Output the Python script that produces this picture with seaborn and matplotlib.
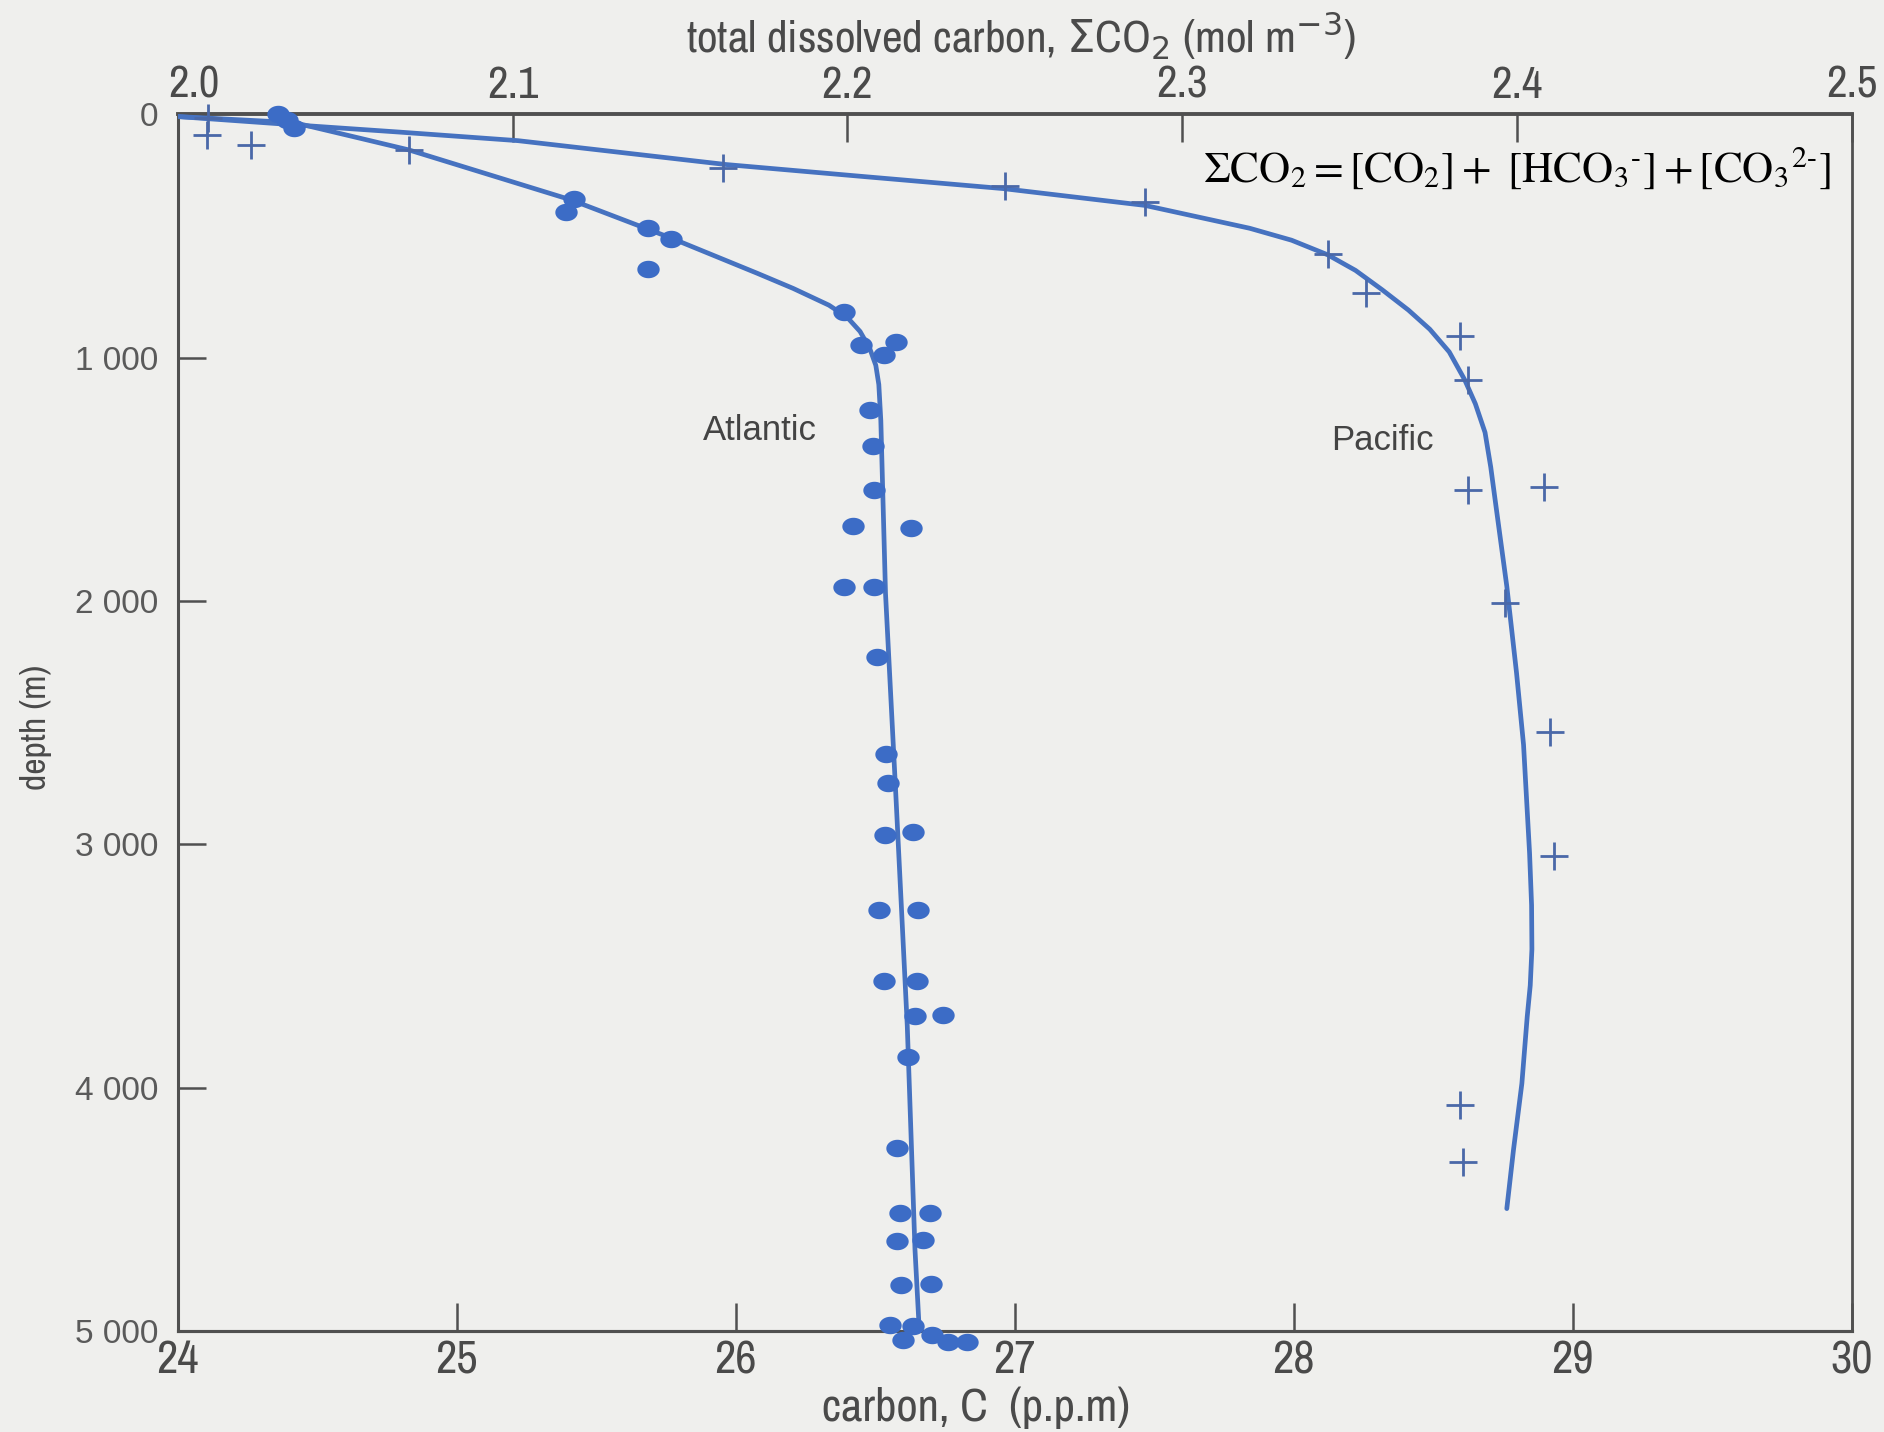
import matplotlib
matplotlib.use("Agg")
import matplotlib.pyplot as plt
from matplotlib import font_manager
from matplotlib.path import Path
from matplotlib.transforms import ScaledTranslation
import numpy as np
import pandas as pd
import seaborn as sns

# ---- measured profiles: total dissolved carbon (mol m^-3) against depth (m) ----
atlantic_dic = [2.0298, 2.0325, 2.0347, 2.1182, 2.1159, 2.1403, 2.1472, 2.1403,
                2.1990, 2.2040, 2.2145, 2.2109, 2.2069, 2.2078, 2.2081, 2.2017,
                2.2191, 2.1990, 2.2081, 2.2090, 2.2116, 2.2120, 2.2113, 2.2195,
                2.2095, 2.2212, 2.2108, 2.2209, 2.2202, 2.2287, 2.2182, 2.2148,
                2.2157, 2.2247, 2.2148, 2.2225, 2.2160, 2.2250, 2.2127, 2.2197,
                2.2167, 2.2252, 2.2302, 2.2357]
atlantic_depth = [0, 25, 59, 348, 404, 469, 514, 638,
                  813, 948, 937, 990, 1217, 1365, 1544, 1693,
                  1700, 1941, 1941, 2229, 2629, 2748, 2963, 2950,
                  3268, 3268, 3561, 3561, 3707, 3702, 3876, 4247,
                  4514, 4514, 4628, 4625, 4810, 4806, 4975, 4981,
                  5036, 5015, 5043, 5043]

pacific_dic = [2.0090, 2.0086, 2.0220, 2.0690, 2.1630, 2.2470, 2.2890, 2.3435,
               2.3550, 2.3830, 2.3855, 2.3855, 2.4080, 2.3966, 2.4100, 2.4110,
               2.3830, 2.3840]
pacific_depth = [17, 84, 128, 148, 222, 296, 360, 573,
                 735, 913, 1091, 1545, 1530, 2009, 2537, 3050,
                 4072, 4304]

# ---- hand-fitted profile curves ----
atlantic_fit_dic = [2.0000, 2.0348, 2.0544, 2.0690, 2.1176, 2.1475, 2.1731, 2.1838,
                    2.1945, 2.1999, 2.2038, 2.2067, 2.2085, 2.2094, 2.2100, 2.2114,
                    2.2146, 2.2179, 2.2202, 2.2215]
atlantic_fit_depth = [10, 35, 99, 147, 353, 510, 654, 716,
                      785, 834, 893, 963, 1032, 1111, 1259, 1969,
                      2828, 3746, 4664, 5000]

pacific_fit_dic = [2.0000, 2.0348, 2.0664, 2.1016, 2.1637, 2.2053, 2.2466, 2.2889,
                   2.3202, 2.3327, 2.3435, 2.3518, 2.3597, 2.3676, 2.3740, 2.3798,
                   2.3844, 2.3876, 2.3905, 2.3922, 2.3937, 2.3970, 2.3999, 2.4020,
                   2.4038, 2.4044, 2.4045, 2.4040, 2.4031, 2.4015, 2.3990, 2.3970]
pacific_fit_depth = [10, 44, 74, 109, 207, 257, 306, 375,
                     469, 518, 578, 642, 721, 805, 884, 977,
                     1091, 1190, 1308, 1450, 1604, 1940, 2295, 2591,
                     3036, 3250, 3431, 3580, 3708, 3983, 4255, 4497]

top_ticks = [2.0, 2.1, 2.2, 2.3, 2.4, 2.5]
top_labels = ["2.0", "2.1", "2.2", "2.3", "2.4", "2.5"]
bottom_ticks = [24, 25, 26, 27, 28, 29, 30]
depth_ticks = [0, 1000, 2000, 3000, 4000, 5000]
depth_labels = ["0", "1 000", "2 000", "3 000", "4 000", "5 000"]

# ---- styling ----
sns.set_theme(style="white")
plt.rcParams["font.family"] = ["Liberation Sans", "DejaVu Sans"]


def condensed_font():
    """Pick a narrow sans face if one is installed."""
    for f in font_manager.fontManager.ttflist:
        if "Narrow" in f.name and f.weight in (400, "normal", "regular") and f.style == "normal":
            return f.fname, True
    for f in font_manager.fontManager.ttflist:
        if f.name == "DejaVu Sans" and "condensed" in str(f.stretch) and f.weight in (400, "normal") \
                and f.style == "normal":
            return f.fname, True
    return None, False


narrow_file, has_narrow = condensed_font()


def axis_font(size):
    if has_narrow:
        return font_manager.FontProperties(fname=narrow_file, size=size * 1.12)
    return font_manager.FontProperties(family="Liberation Sans", size=size)


paper = "#efefed"
frame = "#505050"
text_col = "#4a4a4a"
line_col = "#4672c0"
dot_col = "#3c6cc6"
plus_col = "#4a68a8"

# slightly flattened dot, as printed
theta = np.linspace(0, 2 * np.pi, 40)
dot_marker = Path(np.column_stack([np.cos(theta), 0.78 * np.sin(theta)]), closed=True)

fig = plt.figure(figsize=(18.84, 14.32), dpi=100, facecolor=paper)
ax = fig.add_axes([0.0944, 0.0705, 0.8884, 0.8498], facecolor=paper)

atl_fit = pd.DataFrame({"dic": atlantic_fit_dic, "depth": atlantic_fit_depth})
pac_fit = pd.DataFrame({"dic": pacific_fit_dic, "depth": pacific_fit_depth})
atl = pd.DataFrame({"dic": atlantic_dic, "depth": atlantic_depth})
pac = pd.DataFrame({"dic": pacific_dic, "depth": pacific_depth})

for fit in (atl_fit, pac_fit):
    sns.lineplot(data=fit, x="dic", y="depth", sort=False, estimator=None,
                 color=line_col, linewidth=3.4, ax=ax, zorder=3)
    ax.lines[-1].set_solid_joinstyle("round")
    ax.lines[-1].set_solid_capstyle("round")

sns.scatterplot(data=atl, x="dic", y="depth", marker=dot_marker, s=260, color=dot_col,
                edgecolor=dot_col, linewidth=0, ax=ax, zorder=4, clip_on=False)
sns.scatterplot(data=pac, x="dic", y="depth", marker="+", s=430, color=plus_col,
                linewidth=2.0, ax=ax, zorder=4, clip_on=False)

ax.set_xlim(2.0, 2.5)
ax.set_ylim(5000, 0)
ax.set_xlabel("")
ax.set_ylabel("")

# top axis: total dissolved carbon
ax.xaxis.tick_top()
ax.set_xticks(top_ticks)
ax.set_xticklabels(top_labels, fontproperties=axis_font(29), color=text_col)
ax.tick_params(axis="x", which="major", direction="in", length=20, width=1.8,
               color=frame, pad=6, top=True, bottom=False)
first = ax.get_xticklabels()[0]
first.set_transform(first.get_transform() + ScaledTranslation(0.16, 0, fig.dpi_scale_trans))

# depth axis
ax.set_yticks(depth_ticks)
ax.set_yticklabels(depth_labels, fontsize=24, color="#5a5a5a")
ax.tick_params(axis="y", which="major", direction="in", length=20, width=1.8,
               color=frame, pad=14, left=True, right=False)

# bottom axis: carbon in p.p.m (12 g per mol)
sec = ax.secondary_xaxis("bottom", functions=(lambda v: v * 12.0, lambda v: v / 12.0))
sec.set_xticks(bottom_ticks)
sec.set_xticklabels([str(t) for t in bottom_ticks], fontproperties=axis_font(30),
                    color=text_col)
sec.tick_params(axis="x", direction="in", length=20, width=1.8, color=frame, pad=6)
sec.spines["bottom"].set_color(frame)
sec.spines["bottom"].set_linewidth(2.2)

for side, lw in (("top", 2.8), ("left", 2.2), ("right", 2.0), ("bottom", 2.2)):
    ax.spines[side].set_visible(True)
    ax.spines[side].set_color(frame)
    ax.spines[side].set_linewidth(lw)

# axis titles
fig.text(0.542, 0.975, r"total dissolved carbon, $\Sigma$CO$_2$ (mol m$^{-3}$)",
         ha="center", va="center", fontproperties=axis_font(29 if has_narrow else 28),
         color=text_col)
fig.text(0.518, 0.017, "carbon, C  (p.p.m)", ha="center", va="center",
         fontproperties=axis_font(30 if has_narrow else 28), color=text_col)
fig.text(0.019, 0.492, "depth (m)", ha="center", va="center", rotation=90,
         fontproperties=axis_font(23), color=text_col)

# curve labels
ax.text(2.174, 1298, "Atlantic", ha="center", va="center", fontsize=25, color="#444444")
ax.text(2.3597, 1343, "Pacific", ha="center", va="center", fontsize=25, color="#444444")

# definition of total dissolved carbon
hy = "\u2010"
ax.text(0.7997, 0.9447,
        r"$\Sigma\mathrm{CO}_2 = [\mathrm{CO}_2] +\ [\mathrm{HCO}_3{}^{\mathrm{" + hy
        + r"}}] + [\mathrm{CO}_3{}^{\mathrm{2" + hy + r"}}]$",
        transform=ax.transAxes, ha="center", va="baseline", fontsize=31,
        color="black", math_fontfamily="stix")

fig.savefig("out.png", dpi=100, facecolor=paper)
